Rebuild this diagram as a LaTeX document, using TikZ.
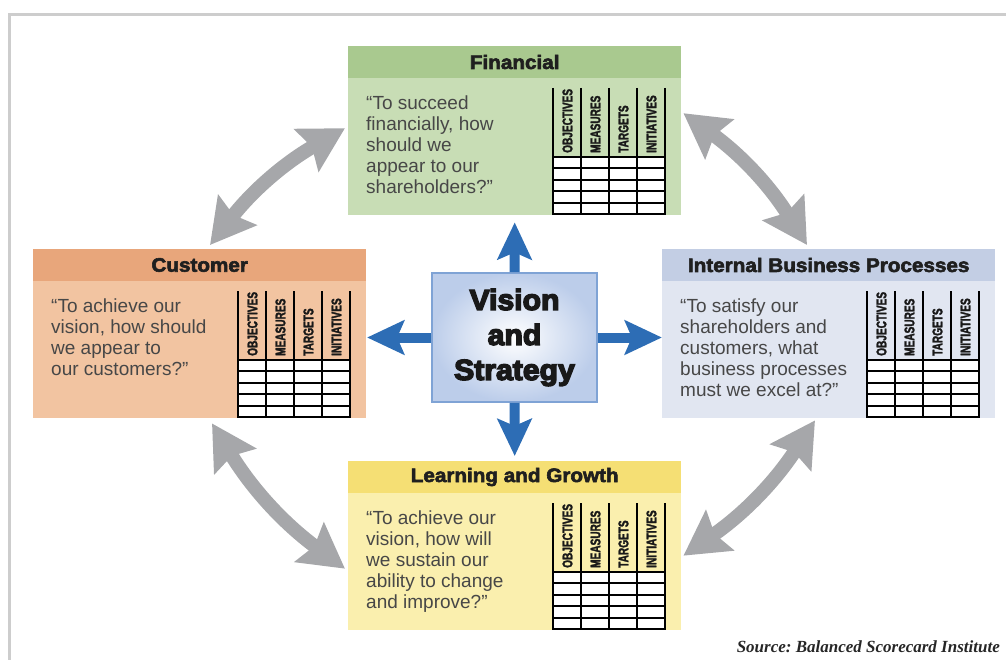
\documentclass[tikz,border=0pt]{standalone}
\usepackage{fontspec}
\setmainfont{Liberation Sans}
\newfontfamily\headfont[FakeStretch=1.06,FakeBold=3]{Liberation Sans}
\newfontfamily\visfont[FakeStretch=1.04,FakeBold=5]{Liberation Sans}
\newfontfamily\colfont[FakeStretch=0.72,FakeBold=2]{Liberation Sans}
\newfontfamily\srcfont{Liberation Serif}
\usetikzlibrary{arrows.meta,calc}
\definecolor{finH}{HTML}{A9C98F}
\definecolor{finB}{HTML}{C8DDB5}
\definecolor{cusH}{HTML}{E8A67B}
\definecolor{cusB}{HTML}{F2C4A1}
\definecolor{intH}{HTML}{C3CEE4}
\definecolor{intB}{HTML}{E1E6F1}
\definecolor{lrnH}{HTML}{F5DF74}
\definecolor{lrnB}{HTML}{FAEFAE}
\definecolor{arrGray}{HTML}{A6A7AA}
\definecolor{arrBlue}{HTML}{2D6DB5}
\definecolor{visBorder}{HTML}{7FA3D5}
\definecolor{visOuter}{HTML}{BCCDEA}
\definecolor{quoteText}{HTML}{474747}
\definecolor{frameGray}{HTML}{CDCDCD}
\tikzset{
  pbox/.style={minimum width=333, minimum height=169, inner sep=0, draw=none},
  ptitle/.style={inner sep=0, font=\headfont\bfseries\fontsize{19.5}{20}\selectfont, text=black!88},
  pquote/.style={inner sep=0, align=left, text=quoteText, font=\fontsize{19}{21}\selectfont},
  tabline/.style={line width=2, black},
  colhead/.style={rotate=90, anchor=west, inner sep=0, text=black!90, font=\colfont\bfseries\fontsize{14}{14}\selectfont},
  visbox/.style={minimum width=165, minimum height=129, draw=visBorder, line width=1.8,
    inner color=white, outer color=visOuter, align=center, inner sep=0, text=black!90,
    font=\visfont\bfseries\fontsize{29}{35}\selectfont},
  bluearrow/.style={draw=arrBlue, line width=10, -{Stealth[length=37pt,width=34pt,inset=7pt]}},
  grayarrow/.style={draw=arrGray, line width=14,
    {Stealth[length=44pt,width=48pt,inset=6pt]}-{Stealth[length=44pt,width=48pt,inset=6pt]}},
  srctext/.style={inner sep=0, anchor=base east, text=black!85,
    font=\frenchspacing\srcfont\bfseries\itshape\fontsize{17}{17}\selectfont}
}
\newcommand\bscbox[7]{%
  \node[pbox, fill=#5, anchor=north west] (#1) at (#2,#3) {};
  \fill[#4] (#1.north west) rectangle ($(#1.north east)+(0,32)$);
  \node[ptitle] (#1t) at ($(#1.north)+(0,16)$) {#6};
  \node[pquote, anchor=north west] (#1q) at ($(#1.north west)+(18,50)$) {#7};
  \fill[white] ($(#1.north west)+(205,111)$) rectangle ($(#1.north west)+(317,168)$);
  \foreach \kk in {0,...,4}
    \draw[tabline] ($(#1.north west)+(205+28*\kk,42)$) -- ($(#1.north west)+(205+28*\kk,168)$);
  \foreach \yy in {111,122.4,133.8,145.2,156.6,168}
    \draw[tabline] ($(#1.north west)+(204,\yy)$) -- ($(#1.north west)+(318,\yy)$);
  \foreach \colname [count=\ii from 0] in {OBJECTIVES,MEASURES,TARGETS,INITIATIVES}
    \node[colhead] at ($(#1.north west)+(219.5+28*\ii,107)$) {\colname};
}
\begin{document}
\begin{tikzpicture}[x=1pt,y=-1pt]
\useasboundingbox (0,0) rectangle (1006,660);
\draw[frameGray, line width=3] (9,662) -- (9,15) -- (1008,15);

\bscbox{fin}{348}{46}{finH}{finB}{Financial}{“To succeed\\financially, how\\should we\\appear to our\\shareholders?”}
\bscbox{cust}{33}{249}{cusH}{cusB}{Customer}{“To achieve our\\vision, how should\\we appear to\\our customers?”}
\bscbox{int}{662}{249}{intH}{intB}{Internal Business Processes}{“To satisfy our\\shareholders and\\customers, what\\business processes\\must we excel at?”}
\bscbox{lrn}{348}{461}{lrnH}{lrnB}{Learning and Growth}{“To achieve our\\vision, how will\\we sustain our\\ability to change\\and improve?”}

\node[visbox] (vis) at (514.5,337.5) {Vision\\and\\Strategy};

\coordinate (tipU) at ($(fin.south)+(0,7)$);
\coordinate (tipD) at ($(lrn.north)+(0,-5)$);
\coordinate (tipL) at ($(vis.west)+(-64,0)$);
\coordinate (tipR) at ($(vis.east)+(64,0)$);
\draw[bluearrow] (vis.north) -- (tipU);
\draw[bluearrow] (vis.south) -- (tipD);
\draw[bluearrow] (vis.west) -- (tipL);
\draw[bluearrow] (vis.east) -- (tipR);

\coordinate (a1) at ($(cust.north west)+(177,-4)$);
\coordinate (a2) at ($(fin.west)+(-3,-2.5)$);
\coordinate (a3) at ($(fin.east)+(2,-17.5)$);
\coordinate (a4) at ($(int.north west)+(145,-4)$);
\coordinate (a5) at ($(int.south west)+(153,2)$);
\coordinate (a6) at ($(lrn.east)+(2,10)$);
\coordinate (a7) at ($(lrn.west)+(-3,23)$);
\coordinate (a8) at ($(cust.south west)+(179,5)$);
\draw[grayarrow] (a1) to[bend left=11] (a2);
\draw[grayarrow] (a3) to[bend left=11] (a4);
\draw[grayarrow] (a5) to[bend left=11] (a6);
\draw[grayarrow] (a7) to[bend left=11] (a8);

\node[srctext] (src) at (1000,652) {Source: Balanced Scorecard Institute};
\end{tikzpicture}
\end{document}
